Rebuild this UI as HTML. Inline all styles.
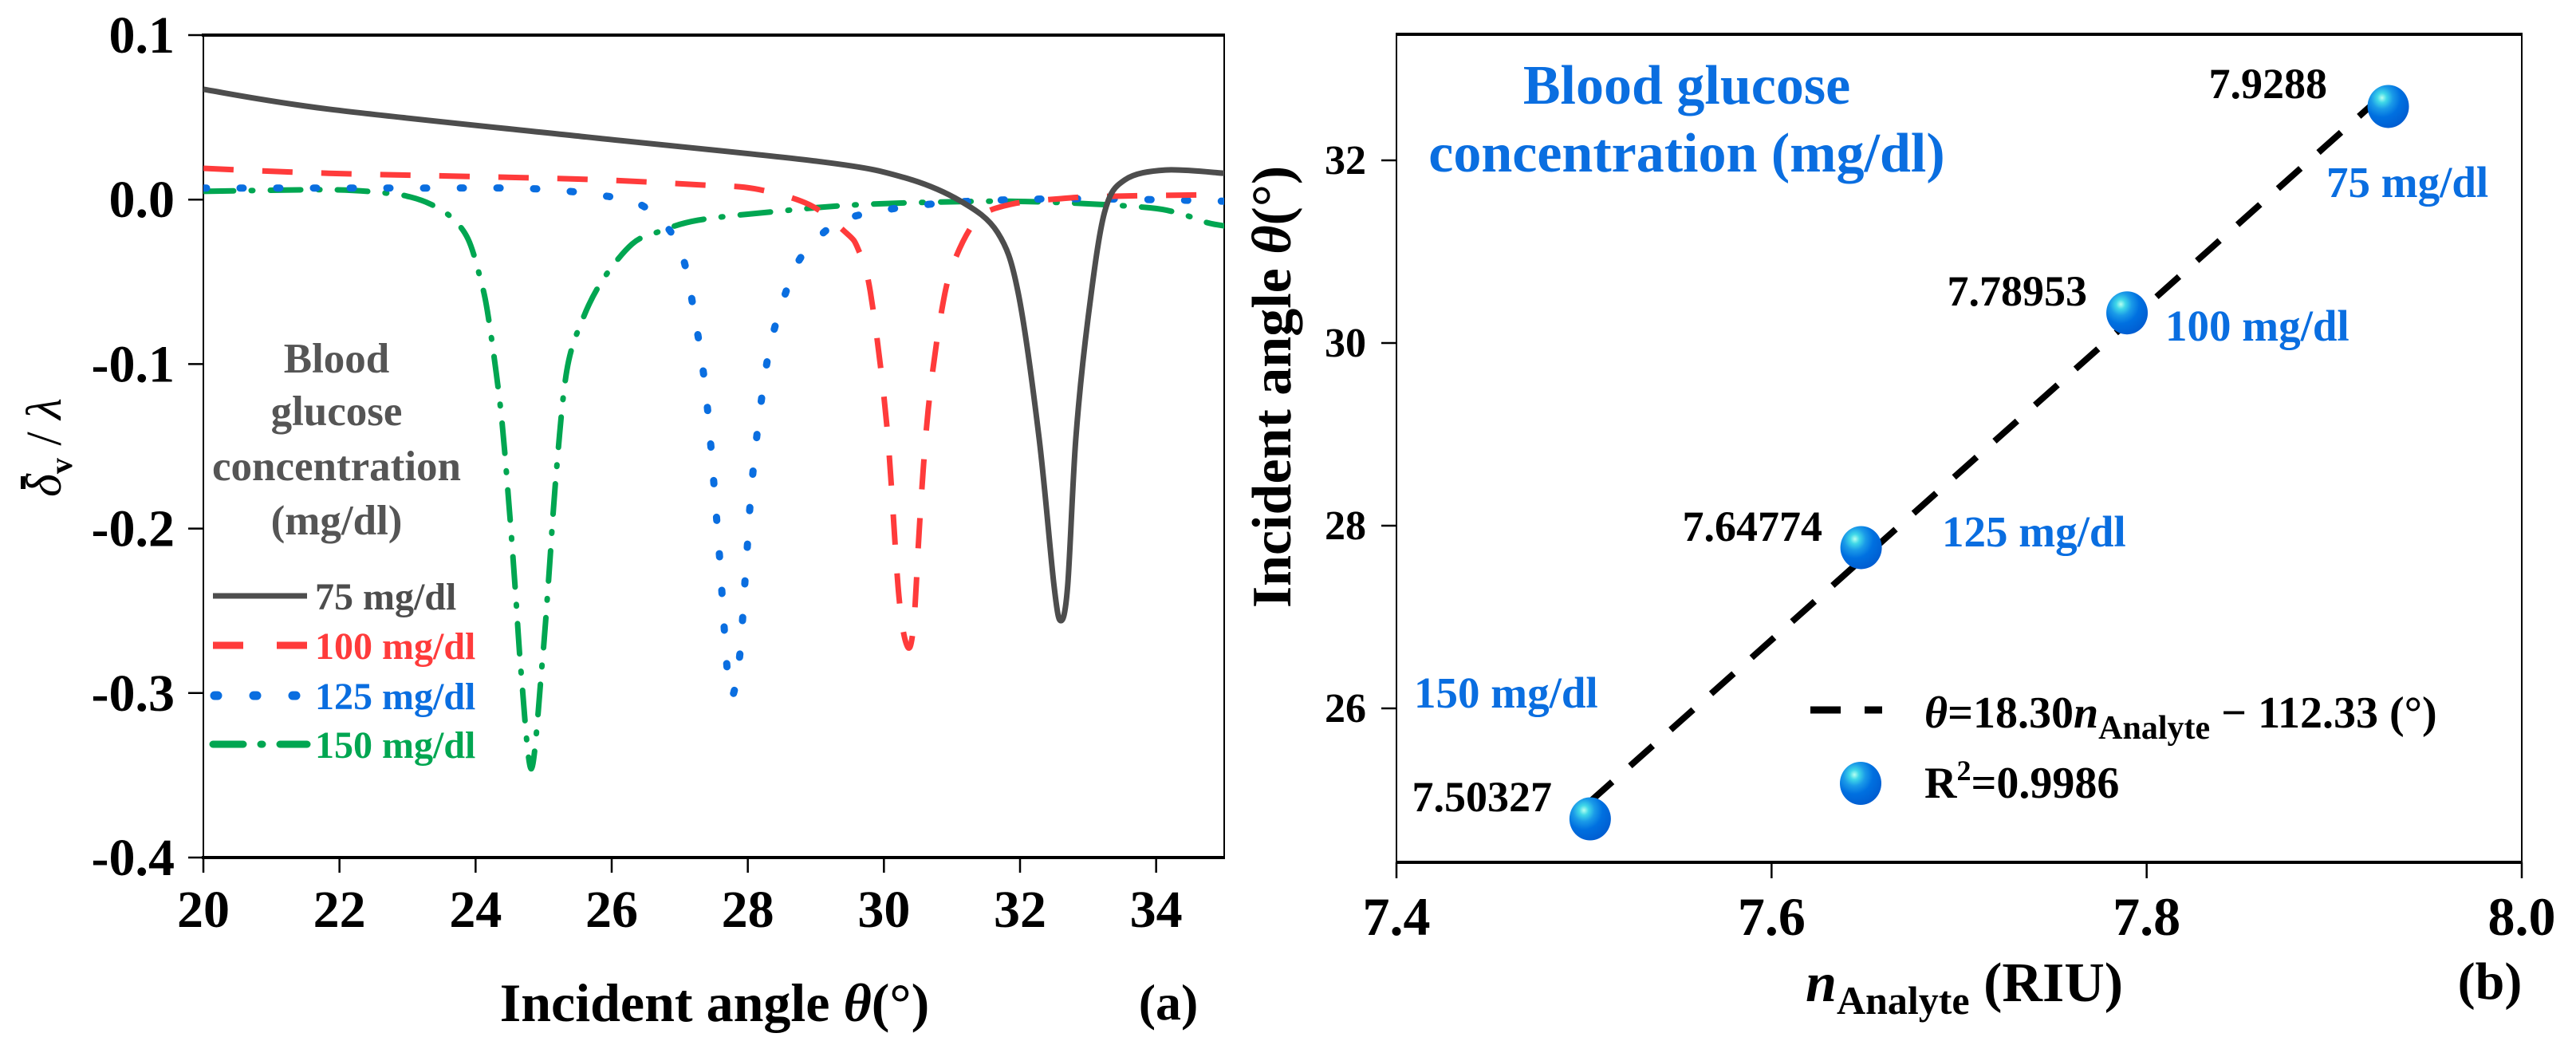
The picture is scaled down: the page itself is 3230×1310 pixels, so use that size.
<!DOCTYPE html>
<html><head><meta charset="utf-8"><style>
html,body{margin:0;padding:0;background:#fff;font-family:"Liberation Serif","Times New Roman","DejaVu Serif",serif;}
svg{display:block;}
svg text{font-family:"Liberation Serif","Times New Roman","DejaVu Serif",serif;}
</style></head><body>
<svg id="fig" width="3230" height="1310" viewBox="0 0 3230 1310" xmlns="http://www.w3.org/2000/svg" font-family="Liberation Serif, serif">
<defs>
<radialGradient id="ball" cx="0.35" cy="0.3" r="0.75">
<stop offset="0" stop-color="#b8fff0"/><stop offset="0.15" stop-color="#40d8e8"/><stop offset="0.35" stop-color="#1a9ae8"/><stop offset="0.6" stop-color="#0070e0"/><stop offset="1" stop-color="#005cd0"/>
</radialGradient>
</defs>
<g id="panelA"></g>
<g id="panelB"></g>
</svg>
<script>
// ---- Panel (a) data ----
const aXTicks = [20,22,24,26,28,30,32,34];
const aYTicks = [0.1,0.0,-0.1,-0.2,-0.3,-0.4];
const aYTickLabels = ["0.1","0.0","-0.1","-0.2","-0.3","-0.4"];
const s75x = [20,21.84,25.64,29.08,30.29,31.13,31.67,31.97,32.28,32.5,32.6,32.7,32.82,33.0,33.24,33.54,34.14,35];
const s75y = [0.067,0.055,0.038,0.023,0.0135,-0.001,-0.020,-0.056,-0.145,-0.235,-0.256,-0.235,-0.145,-0.072,-0.008,0.012,0.018,0.016];
const s100x = [20,21.84,25.46,27.27,28.1,28.9,29.44,29.62,29.8,30.04,30.22,30.35,30.44,30.53,30.65,30.83,31.01,31.37,31.85,32.57,33.3,35];
const s100y = [0.019,0.016,0.0125,0.009,0.0066,-0.003,-0.02,-0.03,-0.056,-0.136,-0.241,-0.272,-0.257,-0.193,-0.128,-0.072,-0.04,-0.012,-0.003,0.0005,0.002,0.003];
const s125x = [20,23.05,24.85,25.94,26.42,26.78,27.03,27.2,27.39,27.57,27.73,27.87,27.97,28.05,28.18,28.35,28.66,28.9,29.32,29.92,30.89,31.97,33.07,34.5,35];
const s125y = [0.007,0.007,0.0066,0.002,-0.003,-0.015,-0.033,-0.066,-0.12,-0.209,-0.298,-0.281,-0.225,-0.177,-0.128,-0.085,-0.045,-0.029,-0.014,-0.007,-0.002,0.0,0.0005,-0.0005,-0.001];
const s150x = [20,21.84,22.68,23.05,23.35,23.65,23.89,24.07,24.19,24.37,24.49,24.59,24.67,24.82,24.98,25.07,25.18,25.34,25.58,25.88,26.3,26.66,27.27,28.47,29.68,31.49,32.7,33.91,34.39,34.75,35];
const s150y = [0.005,0.006,0.004,0.0015,-0.003,-0.011,-0.024,-0.048,-0.072,-0.128,-0.185,-0.241,-0.288,-0.346,-0.281,-0.233,-0.169,-0.104,-0.072,-0.048,-0.027,-0.020,-0.0125,-0.007,-0.003,-0.001,-0.002,-0.005,-0.009,-0.014,-0.016];

// ---- Panel (b) data ----
const bXTicks = [7.4,7.6,7.8,8.0];
const bXTickLabels = ["7.4","7.6","7.8","8.0"];
const bYTicks = [26,28,30,32];
const bN = [7.9288,7.78953,7.64774,7.50327];
const bTheta = [32.59,30.33,27.76,24.79];
const bNLabels = ["7.9288","7.78953","7.64774","7.50327"];
const bConcLabels = ["75 mg/dl","100 mg/dl","125 mg/dl","150 mg/dl"];
const fitSlope = 18.30, fitIntercept = -112.33;
const fitRange = [7.503,7.93];

const NS = "http://www.w3.org/2000/svg";
const FF = 'Liberation Serif, Times New Roman, DejaVu Serif, serif';
function mk(parent, tag, attrs, text){
  const e = document.createElementNS(NS, tag);
  for (const k in attrs) e.setAttribute(k, attrs[k]);
  if (tag === 'text') e.setAttribute('font-family', FF);
  if (text !== undefined) e.textContent = text;
  parent.appendChild(e);
  return e;
}
const BOLD = "bold";
function smoothPath(pts){
  let d = 'M'+pts[0][0].toFixed(1)+','+pts[0][1].toFixed(1);
  for (let i=0;i<pts.length-1;i++){
    const p0 = pts[Math.max(0,i-1)], p1 = pts[i], p2 = pts[i+1], p3 = pts[Math.min(pts.length-1,i+2)];
    const t = 0.16;
    const c1x = p1[0]+(p2[0]-p0[0])*t, c1y = p1[1]+(p2[1]-p0[1])*t;
    const c2x = p2[0]-(p3[0]-p1[0])*t, c2y = p2[1]-(p3[1]-p1[1])*t;
    d += ' C'+c1x.toFixed(1)+','+c1y.toFixed(1)+' '+c2x.toFixed(1)+','+c2y.toFixed(1)+' '+p2[0].toFixed(1)+','+p2[1].toFixed(1);
  }
  return d;
}

// ===== Panel A =====
const A = document.getElementById('panelA');
const aL=255, aR=1535, aT=44, aB=1075;
const ax = v => aL + (v-20)/(35-20)*(aR-aL);
const ay = v => aT + (0.1-v)/(0.5)*(aB-aT);

let e;
e = mk(A,'rect',{x:aL,y:aT,width:aR-aL,height:aB-aT,fill:'none',stroke:'#000','stroke-width':2});


e = mk(A,'line',{x1:aL-2,y1:aT,x2:aR+1,y2:aT,stroke:'#000','stroke-width':4});


e = mk(A,'line',{x1:aL-2,y1:aB,x2:aR+1,y2:aB,stroke:'#000','stroke-width':4});



aXTicks.forEach(t=>{
  e = mk(A,'line',{x1:ax(t),y1:aB,x2:ax(t),y2:aB+19,stroke:'#000','stroke-width':2.5});
  
  
  e = mk(A,'text',{x:ax(t),y:1162,'font-size':66,'font-weight':BOLD,'text-anchor':'middle'},String(t));
  
  
});
aYTicks.forEach((t,i)=>{
  e = mk(A,'line',{x1:aL-19,y1:ay(t),x2:aL,y2:ay(t),stroke:'#000','stroke-width':2.5});
  
  
  e = mk(A,'text',{x:219,y:ay(t)+22,'font-size':66,'font-weight':BOLD,'text-anchor':'end'},aYTickLabels[i]);
  
  
});

const series = [
  {xs:s75x, ys:s75y, color:'#4d4d4d', dash:'', cap:'butt', w:7, name:'series-75'},
  {xs:s100x, ys:s100y, color:'#ff3b3b', dash:'38 36', cap:'butt', w:7, name:'series-100'},
  {xs:s125x, ys:s125y, color:'#0a6ee0', dash:'4 42', cap:'round', w:9, name:'series-125'},
  {xs:s150x, ys:s150y, color:'#00a651', dash:'38 22 2 22', cap:'round', w:7, name:'series-150'}
];
const clipId='clipA';
const cp = mk(document.querySelector('defs'),'clipPath',{id:clipId});
mk(cp,'rect',{x:aL,y:aT,width:aR-aL,height:aB-aT});
series.slice().reverse().forEach(s=>{
  const pts = s.xs.map((x,i)=>[ax(x), ay(s.ys[i])]);
  const attrs = {d:smoothPath(pts),fill:'none',stroke:s.color,'stroke-width':s.w,'stroke-linecap':s.cap,'stroke-linejoin':'round','clip-path':'url(#'+clipId+')'};
  if (s.dash) attrs['stroke-dasharray']=s.dash;
  e = mk(A,'path',attrs);
  
  
});

// legend (a)
const lg = mk(A,'g',{});


const lgTitle = ["Blood","glucose","concentration","(mg/dl)"];
const lgTitleY = [467,533,602,670];
lgTitle.forEach((t,i)=>{
  e = mk(lg,'text',{x:422,y:lgTitleY[i],'font-size':53,'font-weight':BOLD,fill:'#555','text-anchor':'middle'},t);
  
  
});
const lgY = [747,809,872,933];
const lgLabels = ["75 mg/dl","100 mg/dl","125 mg/dl","150 mg/dl"];
series.forEach((s,i)=>{
  const attrs = {x1:267,y1:lgY[i],x2:385,y2:lgY[i],stroke:s.color,'stroke-width':i==0?7:s.w+2,'stroke-linecap':s.cap};
  if (i==1) attrs['stroke-dasharray']='38 42';
  if (i==2) attrs['stroke-dasharray']='4 45';
  if (i==3) attrs['stroke-dasharray']='38 22 2 22';
  if (i==2){attrs.x1=269;}
  e = mk(lg,'line',attrs);
  
  
  e = mk(lg,'text',{x:395,y:lgY[i]+17,'font-size':48,'font-weight':BOLD,fill:s.color},lgLabels[i]);
  
  
});

// axis titles (a)
e = mk(A,'text',{x:896,y:1280,'font-size':68,'font-weight':BOLD,'text-anchor':'middle'});


e.innerHTML = 'Incident angle <tspan font-style="italic">θ</tspan>(°)';
e = mk(A,'text',{x:1465,y:1278,'font-size':64,'font-weight':BOLD,'text-anchor':'middle'},'(a)');


const yt = mk(A,'g',{transform:'translate(76,561) rotate(-90)'});


e = mk(yt,'text',{x:0,y:0,'font-size':62,'text-anchor':'middle'});


e.innerHTML = '<tspan font-style="italic">δ</tspan><tspan font-size="40" dy="14" font-weight="bold">v</tspan><tspan dy="-14"> / </tspan><tspan font-style="italic">λ</tspan>';
e = mk(yt,'rect',{x:-52,y:-50,width:16,height:6,fill:'#000'});



// ===== Panel B =====
const B = document.getElementById('panelB');
const bL=1751, bR=3162, bT=43, bB=1081;
const bx = v => bL + (v-7.4)/(0.6)*(bR-bL);
const byScale = (888-201)/6;
const by = v => 201 + (32-v)*byScale;

e = mk(B,'rect',{x:bL,y:bT,width:bR-bL,height:bB-bT,fill:'none',stroke:'#000','stroke-width':2});


e = mk(B,'line',{x1:bL-1,y1:bT,x2:bR+1,y2:bT,stroke:'#000','stroke-width':4});


e = mk(B,'line',{x1:bL-1,y1:bB,x2:bR+1,y2:bB,stroke:'#000','stroke-width':4});



bXTicks.forEach((t,i)=>{
  e = mk(B,'line',{x1:bx(t),y1:bB,x2:bx(t),y2:bB+20,stroke:'#000','stroke-width':2.5});
  
  
  e = mk(B,'text',{x:bx(t),y:1172,'font-size':68,'font-weight':BOLD,'text-anchor':'middle'},bXTickLabels[i]);
  
  
});
bYTicks.forEach(t=>{
  e = mk(B,'line',{x1:bL-19,y1:by(t),x2:bL,y2:by(t),stroke:'#000','stroke-width':2.5});
  
  
  e = mk(B,'text',{x:1713,y:by(t)+17,'font-size':52,'font-weight':BOLD,'text-anchor':'end'},String(t));
  
  
});

// fit line
e = mk(B,'line',{x1:bx(fitRange[0]),y1:by(fitSlope*fitRange[0]+fitIntercept),x2:bx(fitRange[1]),y2:by(fitSlope*fitRange[1]+fitIntercept),stroke:'#000','stroke-width':8,'stroke-dasharray':'38 30'});



// points
const nLabelPos = [[2918,123],[2617,383],[2285,678],[1946,1017]];
const cLabelPos = [[2917,247],[2715,427],[2435,685],[1773,887]];
bN.forEach((n,i)=>{
  e = mk(B,'ellipse',{cx:bx(n),cy:by(bTheta[i]),rx:26,ry:27,fill:'url(#ball)'});
  
  
  e = mk(B,'text',{x:nLabelPos[i][0],y:nLabelPos[i][1],'font-size':54,'font-weight':BOLD,'text-anchor':'end'},bNLabels[i]);
  
  
  e = mk(B,'text',{x:cLabelPos[i][0],y:cLabelPos[i][1],'font-size':55,'font-weight':BOLD,fill:'#0a6ee0'},bConcLabels[i]);
  
  
});

// title inside
e = mk(B,'text',{x:2115,y:130,'font-size':70,'font-weight':BOLD,fill:'#0a6ee0','text-anchor':'middle'},'Blood glucose');


e = mk(B,'text',{x:2115,y:215,'font-size':70,'font-weight':BOLD,fill:'#0a6ee0','text-anchor':'middle'},'concentration (mg/dl)');



// legend b
const lgb = mk(B,'g',{});


e = mk(lgb,'line',{x1:2270,y1:890,x2:2360,y2:890,stroke:'#000','stroke-width':9,'stroke-dasharray':'38 30'});


e = mk(lgb,'text',{x:2413,y:912,'font-size':56,'font-weight':BOLD});


e.innerHTML = '<tspan font-style="italic">θ</tspan>=18.30<tspan font-style="italic">n</tspan><tspan font-size="42" dy="14">Analyte</tspan><tspan dy="-14"> − 112.33 (°)</tspan>';
e = mk(lgb,'ellipse',{cx:2333,cy:982,rx:26,ry:27,fill:'url(#ball)'});


e = mk(lgb,'text',{x:2413,y:1000,'font-size':56,'font-weight':BOLD});


e.innerHTML = 'R<tspan font-size="36" dy="-22">2</tspan><tspan dy="22">=0.9986</tspan>';

// axis titles b
e = mk(B,'text',{x:2264,y:1255,'font-size':70,'font-weight':BOLD});


e.innerHTML = '<tspan font-style="italic">n</tspan><tspan font-size="50" dy="16">Analyte</tspan><tspan dy="-16"> (RIU)</tspan>';
e = mk(B,'text',{x:3122,y:1252,'font-size':66,'font-weight':BOLD,'text-anchor':'middle'},'(b)');


e = mk(B,'text',{transform:'translate(1618,485) rotate(-90)','font-size':70,'font-weight':BOLD,'text-anchor':'middle'});


e.innerHTML = 'Incident angle <tspan font-style="italic">θ</tspan>(°)';
</script>
</body></html>
